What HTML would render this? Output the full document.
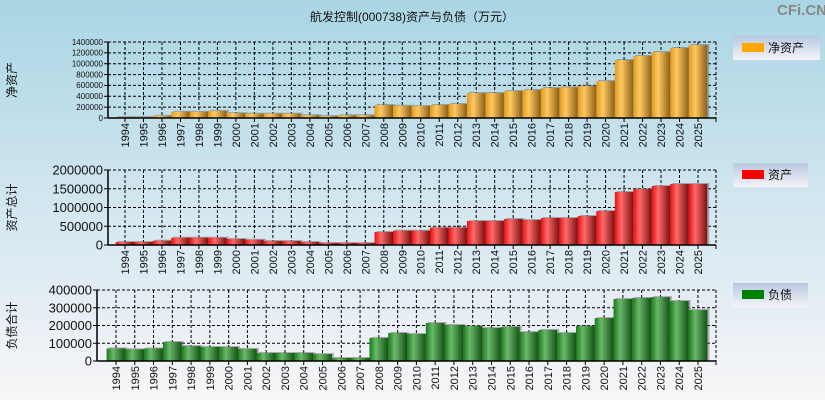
<!DOCTYPE html>
<html><head><meta charset="utf-8">
<style>
html,body{margin:0;padding:0;}
body{width:825px;height:400px;overflow:hidden;background:linear-gradient(#a9d5e4,#d2e6ef 50%,#e8eff5 80%,#f8f6f7);font-family:"Liberation Sans","Noto Sans CJK SC",sans-serif;}
svg{position:absolute;left:0;top:0;}
</style></head>
<body>
<svg id="c" width="825" height="400">
<defs>
<linearGradient id="gO" x1="0" x2="1"><stop offset="0" stop-color="#e09a20"/><stop offset="0.35" stop-color="#ffc860"/><stop offset="1" stop-color="#8a6018"/></linearGradient>
<linearGradient id="gR" x1="0" x2="1"><stop offset="0" stop-color="#e81010"/><stop offset="0.35" stop-color="#ff6a6a"/><stop offset="1" stop-color="#7a1010"/></linearGradient>
<linearGradient id="gG" x1="0" x2="1"><stop offset="0" stop-color="#1a7a1a"/><stop offset="0.35" stop-color="#6ab86a"/><stop offset="1" stop-color="#145214"/></linearGradient>
<linearGradient id="lg" x1="0" x2="0" y1="0" y2="1"><stop offset="0" stop-color="#b9c8e0"/><stop offset="1" stop-color="#f4f4f8"/></linearGradient>
</defs>
<text x="412" y="21" text-anchor="middle" font-size="12" fill="#111">航发控制(000738)资产与负债（万元）</text>
<text x="777" y="15" font-size="15" font-weight="bold" fill="#888">CFi.CN</text>
</svg>
<script>
const years=[1994,1995,1996,1997,1998,1999,2000,2001,2002,2003,2004,2005,2006,2007,2008,2009,2010,2011,2012,2013,2014,2015,2016,2017,2018,2019,2020,2021,2022,2023,2024,2025];
const netAssets=[15000,15000,40000,115000,115000,130000,90000,80000,80000,80000,50000,35000,50000,50000,240000,225000,220000,240000,258000,460000,460000,497000,516000,552000,565000,590000,681000,1068000,1142000,1215000,1289000,1344000];
const assets=[80000,80000,115000,195000,195000,195000,160000,140000,107000,107000,80000,53000,53000,53000,347000,382000,382000,462000,462000,640000,640000,693000,667000,720000,720000,773000,907000,1413000,1493000,1573000,1627000,1627000];
const liabilities=[71000,66000,71000,107000,84000,79000,79000,68000,45000,45000,45000,39000,17000,17000,130000,158000,152000,214000,203000,197000,186000,192000,163000,175000,158000,197000,242000,349000,355000,360000,338000,287000];
const ticks1=[0,200000,400000,600000,800000,1000000,1200000,1400000];
const ticks2=[0,500000,1000000,1500000,2000000];
const ticks3=[0,100000,200000,300000,400000];
const NS='http://www.w3.org/2000/svg';
const svg=document.getElementById('c');
function mk(t,a,p){const e=document.createElementNS(NS,t);for(const k in a)e.setAttribute(k,a[k]);(p||svg).appendChild(e);return e;}
function chart(o){
  const g=mk('g',{});
  
  
  const yMax=o.ticks[o.ticks.length-1];
  const ys=v=>o.bot-(v/yMax)*(o.bot-o.top);
  const step=(o.c1-o.c0)/(years.length-1);
  const xs=i=>o.c0+i*step;
  // grid
  o.ticks.forEach((t,i)=>{
    if(i>0){const l=mk('line',{x1:o.ax,x2:o.right,y1:ys(t),y2:ys(t),stroke:'#000','stroke-dasharray':'3,2','stroke-width':1},g);}
    mk('line',{x1:o.ax-4,x2:o.ax,y1:ys(t),y2:ys(t),stroke:'#000'},g);
    const tx=mk('text',{x:o.ax-5,y:ys(t)+o.tf*0.35,'text-anchor':'end','font-size':o.tf,fill:'#111'},g);
    tx.textContent=t;
    
    
  });
  years.forEach((y,i)=>{
    mk('line',{x1:xs(i),x2:xs(i),y1:o.top,y2:o.bot,stroke:'#000','stroke-dasharray':'3,2'},g);
  });
  mk('line',{x1:o.right,x2:o.right,y1:o.top,y2:o.bot+4,stroke:'#000','stroke-dasharray':'3,2'},g);
  // bars
  o.data.forEach((v,i)=>{
    const w=step;
    mk('rect',{x:xs(i)-w/2+2,y:ys(v)-1,width:w,height:o.bot-ys(v)+1,fill:'#666',opacity:0.5},g);
    const r=mk('rect',{x:xs(i)-w/2,y:ys(v),width:w,height:o.bot-ys(v),fill:o.fill},g);
    
    
  });
  // axes
  mk('line',{x1:o.ax,x2:o.ax,y1:o.top,y2:o.bot,stroke:'#000','stroke-width':1.5},g);
  mk('line',{x1:o.ax,x2:o.right,y1:o.bot,y2:o.bot,stroke:'#000','stroke-width':1.5},g);
  mk('line',{x1:o.right,x2:o.right,y1:o.bot,y2:o.bot+4,stroke:'#000'},g);
  years.forEach((y,i)=>{
    mk('line',{x1:xs(i),x2:xs(i),y1:o.bot,y2:o.bot+4,stroke:'#000'},g);
    const t=mk('text',{x:0,y:0,'font-size':11,fill:'#111','text-anchor':'end',transform:`translate(${xs(i)+4},${o.bot+5}) rotate(-90)`},g);
    t.textContent=y;
    
    
  });
  const yt=mk('text',{x:0,y:0,'font-size':12,fill:'#111','text-anchor':'middle',transform:`translate(16,${(o.top+o.bot)/2}) rotate(-90)`},g);
  yt.textContent=o.ylabel;
  
  
  // legend
  const lg=mk('g',{},g);
  
  
  mk('rect',{x:733,y:o.ly,width:o.lw,height:24,fill:'url(#lg)'},lg);
  mk('rect',{x:742,y:o.ly+7,width:22,height:9,fill:o.lc},lg);
  const lt=mk('text',{x:768,y:o.ly+16,'font-size':12,fill:'#111'},lg);
  lt.textContent=o.lname;
}
chart({name:'net-assets-chart',data:netAssets,ticks:ticks1,top:42,bot:118,ax:108,right:716,c0:125,c1:698,tf:8,fill:'url(#gO)',ylabel:'净资产',ly:36,lw:87,lc:'#ffa500',lname:'净资产'});
chart({name:'total-assets-chart',data:assets,ticks:ticks2,top:170,bot:245,ax:108,right:716,c0:125,c1:698,tf:13,fill:'url(#gR)',ylabel:'资产总计',ly:163,lw:75,lc:'#ff0000',lname:'资产'});
chart({name:'liabilities-chart',data:liabilities,ticks:ticks3,top:290,bot:361,ax:97,right:716,c0:116,c1:698,tf:13,fill:'url(#gG)',ylabel:'负债合计',ly:283,lw:75,lc:'#008000',lname:'负债'});
</script>
</body></html>
